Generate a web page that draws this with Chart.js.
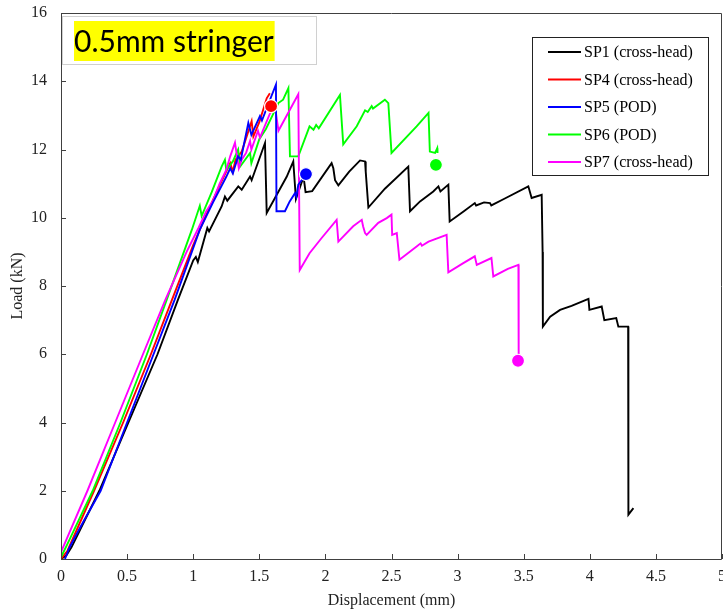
<!DOCTYPE html>
<html><head><meta charset="utf-8">
<script src="https://cdn.jsdelivr.net/npm/chart.js@4/dist/chart.umd.min.js"></script>
<style>html,body{margin:0;padding:0;background:#fff}canvas{display:block}</style>
</head><body>
<canvas id="c" width="723" height="612"></canvas>
<script>
const chartTitle = '0.5mm stringer';
const xAxisTitle = 'Displacement (mm)';
const yAxisTitle = 'Load (kN)';
const seriesLabels = ['SP1 (cross-head)', 'SP4 (cross-head)', 'SP5 (POD)', 'SP6 (POD)', 'SP7 (cross-head)'];
const xTickValues = [0, 0.5, 1, 1.5, 2, 2.5, 3, 3.5, 4, 4.5, 5];
const yTickValues = [0, 2, 4, 6, 8, 10, 12, 14, 16];

// SP1 (black)
const sp1X = [0,0.04,0.08,0.15,0.29,0.51,0.73,0.885,1.0,1.02,1.035,1.107,1.12,1.215,1.24,1.258,1.341,1.367,1.43,1.442,1.543,1.556,1.707,1.757,1.777,1.835,1.85,1.90,2.047,2.06,2.073,2.098,2.18,2.262,2.30,2.305,2.325,2.45,2.627,2.64,2.716,2.816,2.855,2.87,2.93,2.94,3.05,3.13,3.14,3.20,3.245,3.255,3.35,3.535,3.56,3.636,3.643,3.645,3.70,3.775,3.862,3.99,3.997,4.09,4.11,4.20,4.216,4.29,4.292,4.33];
const sp1Y = [0,0.1,0.35,0.9,2.0,4.0,6.0,7.6,8.75,8.85,8.7,9.7,9.6,10.33,10.62,10.5,10.92,10.82,11.21,11.1,12.19,10.14,11.2,11.65,10.55,11.2,10.75,10.78,11.6,11.45,11.1,10.95,11.35,11.68,11.65,11.35,10.3,10.85,11.5,10.19,10.48,10.77,10.92,10.77,10.97,9.89,10.2,10.43,10.36,10.45,10.43,10.36,10.55,10.92,10.58,10.67,9.0,6.81,7.1,7.3,7.42,7.62,7.3,7.4,7.0,7.06,6.81,6.81,1.3,1.49];
// SP4 (red)
const sp4X = [0,0.05,0.25,0.47,0.68,0.84,1.0,1.1,1.2,1.28,1.30,1.32,1.367,1.417,1.442,1.455,1.5,1.556,1.58];
const sp4Y = [0,0.25,2.0,4.0,6.0,7.6,9.2,10.1,10.95,11.6,11.35,11.7,11.94,12.53,12.83,12.38,12.8,13.5,13.65];
// SP5 (blue)
const sp5X = [0.03,0.06,0.1,0.17,0.30,0.50,0.70,0.86,1.05,1.15,1.25,1.28,1.30,1.34,1.36,1.417,1.44,1.505,1.52,1.58,1.626,1.63,1.694,1.73,1.77,1.78,1.795,1.84];
const sp5Y = [0,0.3,0.6,1.1,2.0,4.0,6.0,7.6,9.65,10.45,11.2,11.45,11.3,11.8,11.7,12.78,12.43,12.98,12.85,13.45,13.9,10.19,10.19,10.48,10.72,10.62,10.97,11.2];
// SP6 (green)
const sp6X = [0,0.05,0.24,0.45,0.65,0.8,0.99,1.05,1.064,1.14,1.215,1.24,1.25,1.30,1.34,1.355,1.43,1.44,1.5,1.55,1.60,1.644,1.68,1.72,1.732,1.795,1.88,1.91,1.93,1.95,2.11,2.135,2.237,2.30,2.32,2.35,2.36,2.45,2.476,2.50,2.69,2.78,2.79,2.83,2.846,2.848];
const sp6Y = [0.05,0.45,2.0,4.0,6.0,7.6,9.65,10.35,10.05,10.75,11.5,11.7,11.4,11.65,12.0,11.5,11.9,11.6,12.3,12.6,13.0,13.36,13.46,13.8,11.8,11.8,12.68,12.58,12.72,12.62,13.6,12.15,12.68,13.15,13.1,13.27,13.2,13.46,13.36,11.9,12.68,13.07,11.94,11.9,12.04,11.9];
// SP7 (magenta)
const sp7X = [0,0.2,0.41,0.62,0.79,0.95,1.04,1.1,1.15,1.2,1.25,1.28,1.316,1.345,1.367,1.40,1.43,1.44,1.49,1.505,1.58,1.62,1.645,1.795,1.806,1.88,1.97,2.085,2.098,2.21,2.275,2.285,2.30,2.312,2.40,2.464,2.50,2.505,2.54,2.56,2.69,2.72,2.73,2.78,2.917,2.93,3.043,3.13,3.145,3.256,3.27,3.38,3.46,3.462];
const sp7Y = [0.2,2.0,4.0,6.0,7.6,9.0,9.7,10.2,10.5,11.0,11.4,11.8,12.2,11.45,11.7,11.9,12.25,12.0,12.55,12.35,13.05,13.22,12.55,13.62,8.47,8.96,9.40,9.94,9.30,9.75,9.94,9.75,9.55,9.5,9.85,9.99,10.09,9.5,9.55,8.77,9.16,9.25,9.18,9.3,9.50,8.40,8.67,8.87,8.62,8.82,8.28,8.5,8.62,5.9];
// failure markers (SP4, SP5, SP6, SP7)
const failX = [1.589, 1.853, 2.836, 3.457];
const failY = [13.27, 11.28, 11.55, 5.81];

const pts = (xs, ys) => xs.map((v, i) => ({x: v, y: ys[i]}));
const colors = ['#000000', '#ff0000', '#0000ff', '#00ff00', '#ff00ff'];
const seriesXs = [sp1X, sp4X, sp5X, sp6X, sp7X];
const seriesYs = [sp1Y, sp4Y, sp5Y, sp6Y, sp7Y];
const drawOrder = [6, 5, 2, 4, 3];

const datasets = seriesLabels.map((lab, i) => ({
  label: lab, data: pts(seriesXs[i], seriesYs[i]), showLine: true,
  borderColor: colors[i], backgroundColor: colors[i], borderWidth: 1.9,
  pointRadius: 0, tension: 0, order: drawOrder[i], isSeries: true
}));
failX.forEach((fx, i) => {
  datasets.push({
    label: 'fail' + i, data: [{x: fx, y: failY[i]}], showLine: false,
    pointRadius: 6.5, pointBackgroundColor: colors[i + 1], pointBorderColor: '#ffffff',
    pointBorderWidth: 1.2, order: 0, isSeries: false
  });
});

const decor = {
  id: 'decor',
  afterDatasetsDraw(chart) {
    const {ctx, chartArea: a, scales: {x, y}} = chart;
    ctx.save();
    // frame
    ctx.strokeStyle = '#404040'; ctx.lineWidth = 1;
    ctx.beginPath();
    ctx.moveTo(a.left + 0.5, a.top + 0.5); ctx.lineTo(a.right - 0.5, a.top + 0.5);
    ctx.lineTo(a.right - 0.5, a.bottom + 0.5); ctx.lineTo(a.left + 0.5, a.bottom + 0.5);
    ctx.closePath(); ctx.stroke();
    // inward ticks
    ctx.beginPath();
    x.ticks.forEach(t => { const px = Math.round(x.getPixelForValue(t.value)) + 0.5; ctx.moveTo(px, a.bottom); ctx.lineTo(px, a.bottom - 5); });
    y.ticks.forEach(t => { const py = Math.round(y.getPixelForValue(t.value)) + 0.5; ctx.moveTo(a.left, py); ctx.lineTo(a.left + 5, py); });
    ctx.stroke();
    // title box
    ctx.strokeStyle = '#d0d0d0';
    ctx.strokeRect(62.5, 16.5, 254, 48);
    ctx.font = '30px Lato';
    const tw = ctx.measureText(chartTitle).width;
    ctx.fillStyle = '#ffff00';
    ctx.fillRect(74, 21, tw + 1, 40);
    ctx.fillStyle = '#000'; ctx.textBaseline = 'middle'; ctx.textAlign = 'left';
    ctx.fillText(chartTitle, 74, 42);
    // legend
    ctx.fillStyle = '#fff';
    ctx.fillRect(532.5, 37.5, 176, 138);
    ctx.strokeStyle = '#222'; ctx.lineWidth = 1;
    ctx.strokeRect(532.5, 37.5, 176, 138);
    ctx.font = '16px "Liberation Serif"';
    const series = chart.data.datasets.filter(d => d.isSeries);
    series.forEach((d, i) => {
      const ry = 52 + i * 27.5;
      ctx.strokeStyle = d.borderColor; ctx.lineWidth = 2;
      ctx.beginPath(); ctx.moveTo(548, ry); ctx.lineTo(581, ry); ctx.stroke();
      ctx.fillStyle = '#000';
      ctx.fillText(d.label, 584, ry + 1);
    });
    ctx.restore();
  }
};

const tickFont = {family: '"Liberation Serif", "Times New Roman", serif', size: 16};
const fmt = v => String(Math.round(v * 100) / 100);
new Chart(document.getElementById('c'), {
  type: 'scatter',
  data: {datasets},
  options: {
    responsive: false, animation: false, events: [],
    layout: {autoPadding: false, padding: {top: 13, right: 1, left: 0, bottom: 0}},
    plugins: {legend: {display: false}, tooltip: {enabled: false}},
    scales: {
      x: {
        type: 'linear', min: xTickValues[0], max: xTickValues[xTickValues.length - 1],
        afterBuildTicks: s => { s.ticks = xTickValues.map(v => ({value: v})); },
        grid: {display: false, drawTicks: false}, border: {display: false},
        ticks: {font: tickFont, color: '#222', padding: 8, maxRotation: 0, autoSkip: false, callback: fmt},
        title: {display: true, text: xAxisTitle, font: tickFont, color: '#222', padding: {top: 0, bottom: 2}},
        afterFit: s => { s.height = 53; s.paddingLeft = 0; s.paddingRight = 0; }
      },
      y: {
        type: 'linear', min: yTickValues[0], max: yTickValues[yTickValues.length - 1],
        afterBuildTicks: s => { s.ticks = yTickValues.map(v => ({value: v})); },
        grid: {display: false, drawTicks: false}, border: {display: false},
        ticks: {font: tickFont, color: '#222', padding: 14, autoSkip: false, callback: fmt},
        title: {display: true, text: yAxisTitle, font: tickFont, color: '#222', padding: {top: 8, bottom: 0}},
        afterFit: s => { s.width = 61; s.paddingTop = 0; s.paddingBottom = 0; }
      }
    }
  },
  plugins: [decor]
});
</script>
</body></html>
